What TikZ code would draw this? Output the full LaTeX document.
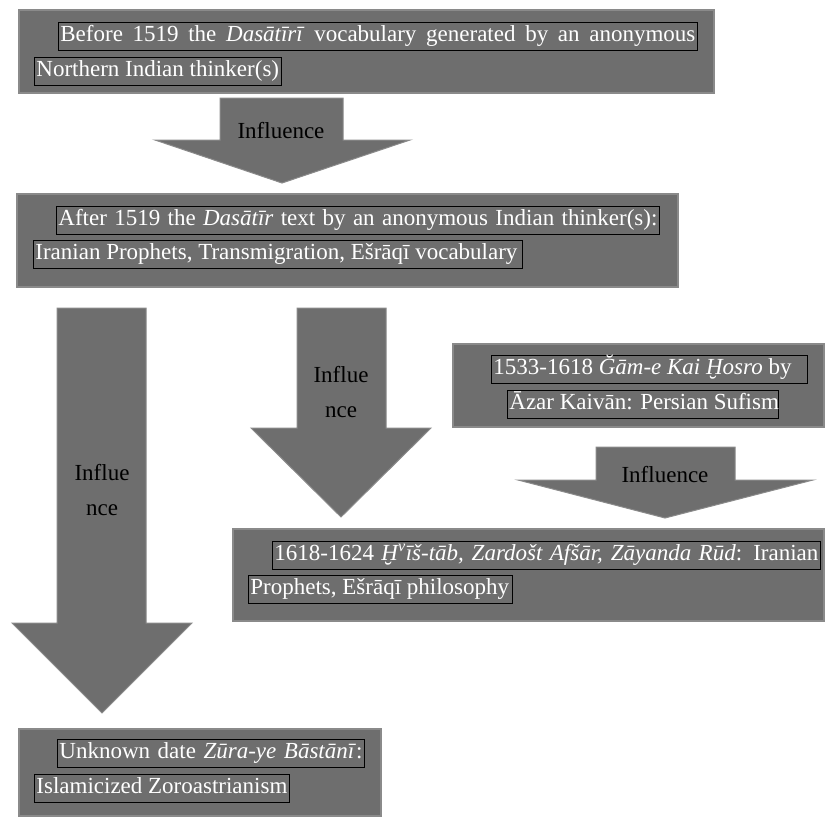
\documentclass[tikz,border=0pt]{standalone}
\usepackage{fontspec}
\setmainfont{Liberation Serif}
\usepackage{xcolor}
\usetikzlibrary{positioning}

\definecolor{boxgray}{RGB}{110,110,110}
\definecolor{rimgray}{RGB}{138,138,138}

% one highlighted text line, stretched or flush left to a set width
\newcommand{\spreadline}[2]{\makebox[#1][s]{#2}}
\newcommand{\flushline}[2]{\makebox[#1][l]{#2}}

\begin{document}
\begin{tikzpicture}[
      x=1pt, y=-1pt,
      panel/.style={draw=rimgray, line width=1.5pt, fill=boxgray, anchor=north west, inner sep=0pt},
      hl/.style={draw=black, line width=0.8pt, fill=boxgray, text=white, anchor=north west,
        inner xsep=2pt, inner ysep=3pt, text height=16pt, text depth=6pt, font=\fontsize{23}{28}\selectfont},
      blockarrow/.style={draw=rimgray, line width=1pt, fill=boxgray},
      lbl/.style={text=black, align=center, inner sep=0pt, font=\fontsize{23}{35}\selectfont},
    ]
    \useasboundingbox (0,0) rectangle (825,817);

    % panels
    \node[panel, minimum width=695pt, minimum height=83pt] (before) at (18,9) {};
    \node[panel, minimum width=661pt, minimum height=93pt] (after) at (16,193) {};
    \node[panel, minimum width=371pt, minimum height=83pt] (gam) at (452,343) {};
    \node[panel, minimum width=591pt, minimum height=92pt] (hvis) at (232,528) {};
    \node[panel, minimum width=362pt, minimum height=87pt] (zura) at (18,728) {};

    % text lines
    \node[hl] (before1) at (58,22) {\spreadline{635pt}{Before 1519 the \textit{Dasātīrī} vocabulary generated by an anonymous}};
    \node[hl] (before2) at (34,57) {\flushline{243pt}{Northern Indian thinker(s)}};
    \node[hl] (after1) at (56,206) {\spreadline{599pt}{After 1519 the \textit{Dasātīr} text by an anonymous Indian thinker(s):}};
    \node[hl] (after2) at (33,240) {\flushline{485pt}{Iranian Prophets, Transmigration, Ešrāqī vocabulary}};
    \node[hl] (gam1) at (491,355) {\flushline{312pt}{1533-1618 \textit{Ğām-e Kai Ḫosro} by}};
    \node[hl] (gam2) at (507,390) {\flushline{267pt}{Āzar Kaivān: Persian Sufism}};
    \node[hl] (hvis1) at (272,541) {\spreadline{544pt}{1618-1624 \textit{Ḫ\textsuperscript{v}īš-tāb, Zardošt Afšār, Zāyanda Rūd}: Iranian}};
    \node[hl] (hvis2) at (248,575) {\flushline{260pt}{Prophets, Ešrāqī philosophy}};
    \node[hl] (zura1) at (57,739) {\spreadline{303pt}{Unknown date \textit{Zūra-ye Bāstānī}:}};
    \node[hl] (zura2) at (34,774) {\flushline{251pt}{Islamicized Zoroastrianism}};

    % influence arrows
    \draw[blockarrow] (220,98) -- (343,98) -- (343,140) -- (410,140) -- (282,183) -- (155,140) -- (220,140) -- cycle;
    \node[lbl] (inf1) at (281,131) {Influence};
    \draw[blockarrow] (57,308) -- (146,308) -- (146,623) -- (192,623) -- (102,713) -- (12,623) -- (57,623) -- cycle;
    \node[lbl] (inf2) at (102,490) {Influe\\nce};
    \draw[blockarrow] (297,308) -- (386,308) -- (386,428) -- (431,428) -- (341,517) -- (251,428) -- (297,428) -- cycle;
    \node[lbl] (inf3) at (341,392) {Influe\\nce};
    \draw[blockarrow] (596,447) -- (735,447) -- (735,480) -- (813,480) -- (665,518) -- (518,480) -- (596,480) -- cycle;
    \node[lbl] (inf4) at (665,475) {Influence};
  \end{tikzpicture}
\end{document}
